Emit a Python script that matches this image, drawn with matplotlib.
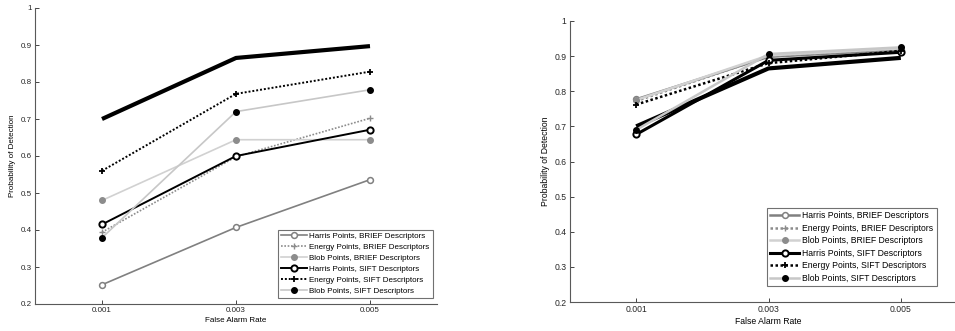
import matplotlib
matplotlib.use("Agg")
import matplotlib.pyplot as plt

plt.rcParams['font.family'] = ['Liberation Sans', 'DejaVu Sans']

far = [0.001, 0.003, 0.005]
xticks = [0.001, 0.003, 0.005]
xticklabels = ['0.001', '0.003', '0.005']
yticks = [0.2, 0.3, 0.4, 0.5, 0.6, 0.7, 0.8, 0.9, 1.0]
yticklabels = ['0.2', '0.3', '0.4', '0.5', '0.6', '0.7', '0.8', '0.9', '1']

labels = ['Harris Points, BRIEF Descriptors', 'Energy Points, BRIEF Descriptors',
          'Blob Points, BRIEF Descriptors', 'Harris Points, SIFT Descriptors',
          'Energy Points, SIFT Descriptors', 'Blob Points, SIFT Descriptors']

# left panel
left_baseline = [0.700, 0.865, 0.897]
left_harris_brief = [0.252, 0.407, 0.536]
left_energy_brief = [0.394, 0.598, 0.702]
left_blob_brief = [0.480, 0.644, 0.644]
left_harris_sift = [0.415, 0.600, 0.671]
left_energy_sift = [0.560, 0.768, 0.828]
left_blob_sift = [0.379, 0.720, 0.779]

# right panel
right_baseline = [0.700, 0.865, 0.895]
right_harris_brief = [0.777, 0.898, 0.918]
right_energy_brief = [0.772, 0.900, 0.920]
right_blob_brief = [0.775, 0.902, 0.922]
right_harris_sift = [0.677, 0.888, 0.911]
right_energy_sift = [0.762, 0.880, 0.915]
right_blob_sift = [0.690, 0.906, 0.925]

styles = [
    dict(color='0.5', ls='-', marker='o', mfc='white', mec='0.5', ms=4.2, mew=1.1),
    dict(color='0.55', ls=(0, (1, 1)), marker='+', mec='0.55', ms=5, mew=1.0),
    dict(color='0.82', ls='-', marker='o', mfc='0.55', mec='0.55', ms=4),
    dict(color='black', ls='-', marker='o', mfc='white', mec='black', ms=4.5, mew=1.4),
    dict(color='black', ls=(0, (1, 1)), marker='+', mec='black', ms=5, mew=1.3),
    dict(color='0.78', ls='-', marker='o', mfc='black', mec='black', ms=4),
]
lws_left = [1.2, 1.2, 1.2, 1.4, 1.4, 1.2]
lws_right = [1.8, 1.8, 1.8, 2.2, 1.8, 1.8]

fig = plt.figure(figsize=(9.55, 3.31), dpi=100)
ax1 = fig.add_axes([35/955, 27/331, 402/955, 296/331])
ax2 = fig.add_axes([570/955, 29/331, 397/955, 281/331])

panels = [
    (ax1, left_baseline, [left_harris_brief, left_energy_brief, left_blob_brief,
                          left_harris_sift, left_energy_sift, left_blob_sift], lws_left,
     (278/955, 33/331, 155/955, 71/331), 5.8, 3.2),
    (ax2, right_baseline, [right_harris_brief, right_energy_brief, right_blob_brief,
                           right_harris_sift, right_energy_sift, right_blob_sift], lws_right,
     (767/955, 45/331, 170/955, 76/331), 6.2, 3.4),
]

for ax, base, series, lws, legbox, fs, hl in panels:
    ax.plot(far, base, color='black', lw=3.0, solid_capstyle='butt', zorder=1)
    handles = []
    for s, st, lw, lab in zip(series, styles, lws, labels):
        h, = ax.plot(far, s, lw=lw, label=lab, zorder=2, **st)
        handles.append(h)
    ax.set_xlim(0, 0.006)
    ax.set_ylim(0.2, 1.0)
    ax.set_xticks(xticks)
    ax.set_xticklabels(xticklabels)
    ax.set_yticks(yticks)
    ax.set_yticklabels(yticklabels)
    ax.tick_params(direction='in', length=3, width=0.6, labelsize=fs, colors='0.15', pad=2.5)
    for sp in ['top', 'right']:
        ax.spines[sp].set_visible(False)
    for sp in ['left', 'bottom']:
        ax.spines[sp].set_linewidth(0.8)
        ax.spines[sp].set_color('0.35')
    ax.set_xlabel('False Alarm Rate', fontsize=fs, labelpad=1.5)
    ax.set_ylabel('Probability of Detection', fontsize=fs, labelpad=3)
    leg = ax.legend(handles=handles, loc='lower left', bbox_to_anchor=legbox,
                    bbox_transform=fig.transFigure, mode='expand',
                    fontsize=fs, frameon=True, fancybox=False, borderaxespad=0,
                    handlelength=hl, handletextpad=0.3, borderpad=0.35,
                    labelspacing=0.42)
    leg.get_frame().set_edgecolor('0.3')
    leg.get_frame().set_linewidth(0.8)

fig.savefig('out.png', dpi=100)
